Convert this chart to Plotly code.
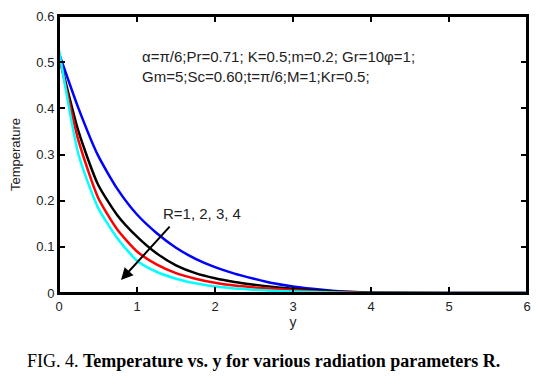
import plotly.graph_objects as go

y_pos = [0, 0.25, 0.5, 0.75, 1.0, 1.25, 1.5, 1.75, 2.0, 2.25, 2.5, 2.75, 3.0, 3.25, 3.5, 3.75, 4.0, 5.0, 6.0]
temp_R1 = [0.519, 0.40, 0.298, 0.225, 0.17, 0.13, 0.098, 0.074, 0.056, 0.042, 0.031, 0.021, 0.014, 0.009, 0.005, 0.002, 0.0, 0.0, 0.0]
temp_R2 = [0.515, 0.35, 0.235, 0.168, 0.122, 0.086, 0.060, 0.043, 0.032, 0.024, 0.018, 0.013, 0.009, 0.006, 0.004, 0.002, 0.001, 0.0, 0.0]
temp_R3 = [0.515, 0.33, 0.207, 0.137, 0.090, 0.062, 0.043, 0.031, 0.022, 0.016, 0.012, 0.009, 0.006, 0.004, 0.002, 0.001, 0.0, 0.0, 0.0]
temp_R4 = [0.526, 0.30, 0.185, 0.118, 0.070, 0.046, 0.031, 0.021, 0.014, 0.010, 0.007, 0.005, 0.003, 0.002, 0.001, 0.0, 0.0, 0.0, 0.0]

series = [("R=1", temp_R1, "#0000ff"), ("R=2", temp_R2, "#000000"),
          ("R=3", temp_R3, "#ff0000"), ("R=4", temp_R4, "#00ffff")]

x_ticks = [0, 1, 2, 3, 4, 5, 6]
y_ticks = [0, 0.1, 0.2, 0.3, 0.4, 0.5, 0.6]
y_tick_labels = ["0", "0.1", "0.2", "0.3", "0.4", "0.5", "0.6"]

params_line1 = "α=π/6;Pr=0.71; K=0.5;m=0.2; Gr=10φ=1;"
params_line2 = "Gm=5;Sc=0.60;t=π/6;M=1;Kr=0.5;"
r_label = "R=1, 2, 3, 4"
caption = "FIG. 4. <b>Temperature vs. y for various radiation parameters R.</b>"

fig = go.Figure()
for name, vals, col in series:
    fig.add_trace(go.Scatter(x=y_pos, y=vals, mode="lines", name=name,
                             line=dict(color=col, width=2.5, shape="spline", smoothing=0.6),
                             showlegend=False))

sans = "Liberation Sans, Arial"
tickfont = dict(family=sans, size=13, color="#222")
axis_common = dict(showline=True, linecolor="black", linewidth=2, mirror="allticks",
                   ticks="inside", ticklen=6, tickwidth=2, tickcolor="black",
                   showgrid=False, zeroline=False, tickfont=tickfont, automargin=False,
                   ticklabeloverflow="allow")

fig.update_xaxes(range=[0, 6], tickvals=x_ticks, **axis_common,
                 title=dict(text="y", font=dict(family=sans, size=14, color="#222"), standoff=4))
fig.update_yaxes(range=[0, 0.6], tickvals=y_ticks, ticktext=y_tick_labels, **axis_common,
                 title=dict(text="Temperature", font=dict(family=sans, size=13, color="#222"), standoff=14))

# frame
fig.add_shape(type="rect", xref="paper", yref="paper", x0=0, x1=1, y0=0, y1=1,
              line=dict(color="black", width=2), fillcolor="rgba(0,0,0,0)", layer="above")

fig.add_annotation(x=1.04, y=0.491, text=params_line1 + "<br>" + params_line2, showarrow=False,
                   xanchor="left", yanchor="middle", align="left",
                   font=dict(family=sans, size=15, color="#222"))
fig.add_annotation(x=1.31, y=0.173, text=r_label, showarrow=False, xanchor="left", yanchor="middle",
                   font=dict(family=sans, size=15, color="#222"))
fig.add_annotation(x=0.795, y=0.028, ax=1.436, ay=0.147, axref="x", ayref="y",
                   showarrow=True, arrowhead=2, arrowsize=1.2, arrowwidth=2, arrowcolor="black", text="")
fig.add_annotation(x=0.438, y=-0.245, xref="paper", yref="paper", text=caption, showarrow=False,
                   xanchor="center", yanchor="middle",
                   font=dict(family="Liberation Serif, Times New Roman", size=18, color="black"))

fig.update_layout(width=547, height=390,
                  margin=dict(l=51, r=28, t=8, b=105),
                  paper_bgcolor="white", plot_bgcolor="white")
fig.write_html("out.html")
